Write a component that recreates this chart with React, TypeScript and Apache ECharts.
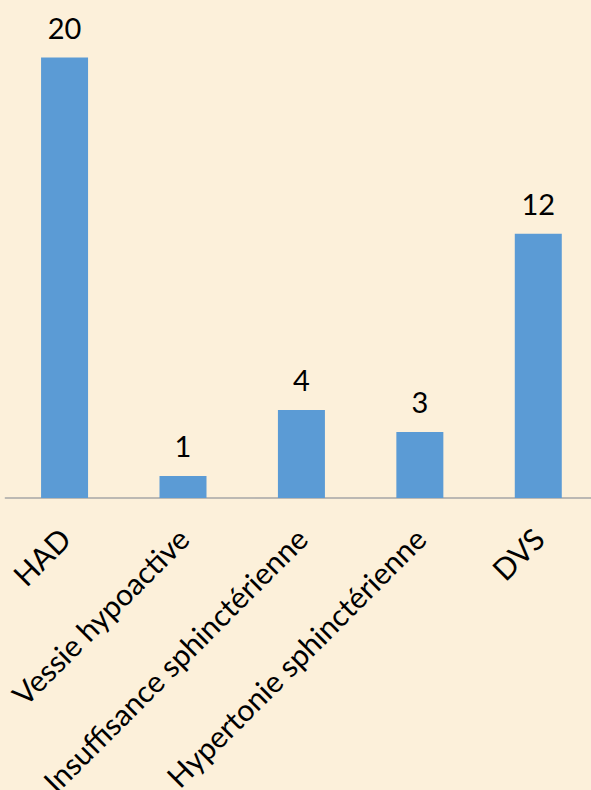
import React, { useEffect, useRef } from "react";
import * as echarts from "echarts";

const categories = ["HAD", "Vessie hypoactive", "Insuffisance sphinctérienne", "Hypertonie sphinctérienne", "DVS"];
const values = [20, 1, 4, 3, 12];

export default function App() {
  const ref = useRef<HTMLDivElement>(null);
  useEffect(() => {
    document.body.style.margin = "0";
    const chart = echarts.init(ref.current!, null, { renderer: "svg" });
    chart.setOption({
      animation: false,
      backgroundColor: "#FCF0DA",
      grid: { left: 5.35, right: -6.5, top: 57.5, bottom: 292, containLabel: false, outerBoundsMode: "none" },
      xAxis: {
        type: "category",
        data: categories,
        axisLine: { show: true, lineStyle: { color: "#A6A6A6", width: 1.5 } },
        axisTick: { show: false },
        axisLabel: {
          rotate: 45,
          interval: 0,
          margin: 35,
          color: "#000",
          fontFamily: "Lato",
          fontSize: 30,
        },
      },
      yAxis: { type: "value", min: 0, max: 20, show: false, splitLine: { show: false } },
      series: [
        {
          type: "bar",
          data: values,
          barWidth: 47,
          itemStyle: { color: "#5B9BD5" },
          label: {
            show: true,
            position: "top",
            distance: 16,
            color: "#000",
            fontFamily: "Lato",
            fontSize: 29,
          },
        },
      ],
    });
    return () => chart.dispose();
  }, []);
  return <div ref={ref} style={{ position: "absolute", left: 0, top: 0, width: 591, height: 790 }} />;
}
